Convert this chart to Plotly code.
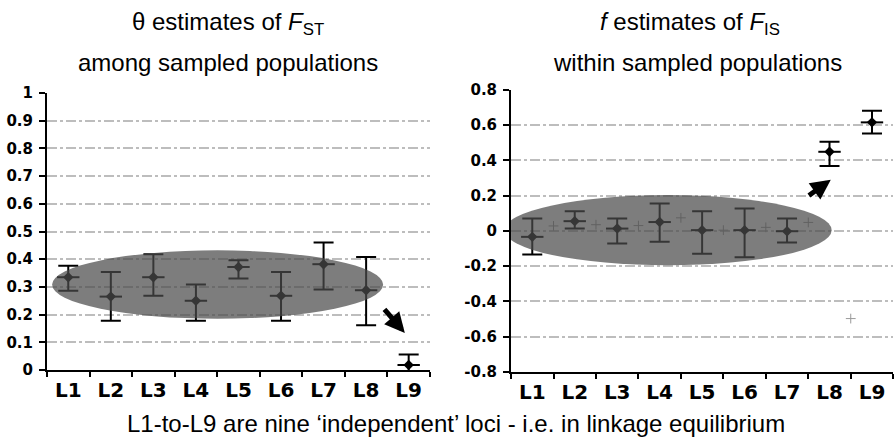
import plotly.graph_objects as go

loci = ["L1", "L2", "L3", "L4", "L5", "L6", "L7", "L8", "L9"]
locus_pos = [1, 2, 3, 4, 5, 6, 7, 8, 9]

# theta estimates of F_ST with confidence limits
theta = [0.335, 0.265, 0.335, 0.250, 0.372, 0.268, 0.382, 0.288, 0.018]
theta_hi = [0.376, 0.354, 0.418, 0.309, 0.396, 0.354, 0.460, 0.408, 0.056]
theta_lo = [0.286, 0.178, 0.268, 0.178, 0.330, 0.178, 0.291, 0.162, -0.030]

# f estimates of F_IS with confidence limits
f_est = [-0.034, 0.055, 0.013, 0.050, 0.004, 0.004, -0.002, 0.449, 0.616]
f_hi = [0.070, 0.112, 0.070, 0.156, 0.112, 0.127, 0.070, 0.506, 0.682]
f_lo = [-0.134, 0.013, -0.072, -0.062, -0.130, -0.150, -0.066, 0.368, 0.553]

# secondary grey points in the F_IS panel
f_extra_pos = [1.5, 2.5, 3.5, 4.5, 5.5, 6.5, 7.5, 8.5]
f_extra = [0.028, 0.035, 0.030, 0.074, 0.004, 0.020, 0.048, -0.498]

left_ticks = [0, 0.1, 0.2, 0.3, 0.4, 0.5, 0.6, 0.7, 0.8, 0.9, 1]
left_ticktext = ["0", "0.1", "0.2", "0.3", "0.4", "0.5", "0.6", "0.7", "0.8", "0.9", "1"]
right_ticks = [-0.8, -0.6, -0.4, -0.2, 0, 0.2, 0.4, 0.6, 0.8]
right_ticktext = ["-0.8", "-0.6", "-0.4", "-0.2", "0", "0.2", "0.4", "0.6", "0.8"]
boundaries = [0.5, 1.5, 2.5, 3.5, 4.5, 5.5, 6.5, 7.5, 8.5, 9.5]

fig = go.Figure()


def add_errs(x, y, hi, lo, xa, ya):
    plus = [h - v for h, v in zip(hi, y)]
    minus = [v - l for v, l in zip(y, lo)]
    fig.add_trace(go.Scatter(
        x=x, y=y, mode="markers", xaxis=xa, yaxis=ya, cliponaxis=False,
        marker=dict(symbol="diamond", size=8, color="black"),
        error_y=dict(type="data", symmetric=False, array=plus, arrayminus=minus,
                     color="black", thickness=2, width=10),
        showlegend=False))
    fig.add_trace(go.Scatter(
        x=x, y=y, mode="markers", xaxis=xa, yaxis=ya, cliponaxis=False,
        marker=dict(symbol="line-ew", size=16, line=dict(color="black", width=2)),
        showlegend=False))


add_errs(locus_pos, theta, theta_hi, theta_lo, "x", "y")
add_errs(locus_pos, f_est, f_hi, f_lo, "x2", "y2")
fig.add_trace(go.Scatter(
    x=f_extra_pos, y=f_extra, mode="markers", xaxis="x2", yaxis="y2",
    marker=dict(symbol="cross-thin", size=7, line=dict(color="#9a9a9a", width=1)),
    showlegend=False))

FONT = "Liberation Sans, Arial, sans-serif"
TICKFONT = "DejaVu Sans, sans-serif"
grid = dict(showgrid=True, gridcolor="#bdbdbd", gridwidth=1.5, griddash="10px,3px,3px,3px")

xcommon = dict(range=[0.5, 9.5], tickmode="array", tickvals=locus_pos, ticktext=loci,
               ticks="", showgrid=False, zeroline=False, showline=True, linecolor="black",
               linewidth=2, ticklabelstandoff=1, automargin=False,
               tickfont=dict(family=TICKFONT, size=20, color="black", weight="bold"),
               minor=dict(tickmode="array", tickvals=boundaries, ticks="outside",
                          ticklen=5, tickwidth=2, tickcolor="black", showgrid=False))

ycommon = dict(tickmode="array", ticks="outside", ticklen=6, tickwidth=2, tickcolor="black",
               showline=True, linecolor="black", linewidth=2, zeroline=False, automargin=False,
               tickfont=dict(family=TICKFONT, size=15, color="black", weight="bold"),
               ticklabelstandoff=3, **grid)

fig.update_layout(
    width=895, height=441, margin=dict(l=0, r=0, t=0, b=0, pad=0, autoexpand=False),
    paper_bgcolor="white", plot_bgcolor="white", showlegend=False,
    xaxis=dict(domain=[0.0525, 0.4804], anchor="y", **xcommon),
    xaxis2=dict(domain=[0.571, 0.998], anchor="y2", **xcommon),
    yaxis=dict(domain=[0.161, 0.789], anchor="x", range=[0, 1],
               tickvals=left_ticks, ticktext=left_ticktext, **ycommon),
    yaxis2=dict(domain=[0.157, 0.796], anchor="x2", range=[-0.8, 0.8],
                tickvals=right_ticks, ticktext=right_ticktext, **ycommon),
    font=dict(family=FONT, color="black"),
)

# grey ellipses grouping the loci in equilibrium
fig.add_shape(type="circle", xref="x", yref="y", x0=0.62, x1=8.4, y0=0.185, y1=0.432,
              fillcolor="rgba(75,75,75,0.72)", line=dict(width=0), layer="above")
fig.add_shape(type="circle", xref="x2", yref="y2", x0=0.34, x1=8.05, y0=-0.195, y1=0.203,
              fillcolor="rgba(75,75,75,0.72)", line=dict(width=0), layer="above")

# arrows
fig.add_annotation(x=8.91, y=0.134, ax=8.40, ay=0.224, xref="x", yref="y", axref="x", ayref="y",
                   text="", showarrow=True, arrowhead=2, arrowsize=0.8, arrowwidth=5,
                   arrowcolor="black")
fig.add_annotation(x=8.03, y=0.290, ax=7.48, ay=0.195, xref="x2", yref="y2", axref="x2", ayref="y2",
                   text="", showarrow=True, arrowhead=2, arrowsize=0.8, arrowwidth=5,
                   arrowcolor="black")

# titles and caption
titles = [
    (228, 24, "θ estimates of <i>F</i><sub>ST</sub>", 24),
    (228, 62, "among sampled populations", 24),
    (690, 24, "<i>f</i> estimates of <i>F</i><sub>IS</sub>", 24),
    (697, 62, "within sampled populations", 24),
    (456, 423, "L1-to-L9 are nine ‘independent’ loci - i.e. in linkage equilibrium", 24),
]
for px, py, t, fs in titles:
    fig.add_annotation(x=px / 895, y=1 - py / 441, xref="paper", yref="paper", text=t,
                       showarrow=False, xanchor="center", yanchor="middle",
                       font=dict(family=FONT, size=fs, color="black"))

fig.write_html("out.html")
